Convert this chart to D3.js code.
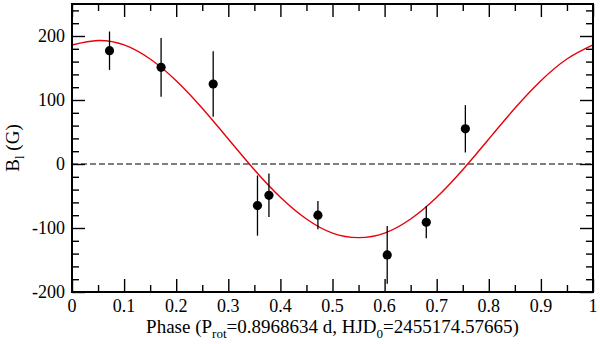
<!DOCTYPE html>
<html>
<head>
<meta charset="utf-8">
<script src="https://cdn.jsdelivr.net/npm/d3@7"></script>
<style>
  body { margin: 0; background: #fff; }
  #chart { position: relative; width: 600px; height: 344px; }
  #chart svg { position: absolute; left: 0; top: 0; }
  .lbl { position: absolute; left: 0; top: 0; white-space: nowrap; color: #000; }
</style>
</head>
<body>
<div id="chart"></div>
<script>
// Measured points (phase, longitudinal field, error)
const phases = [0.072, 0.171, 0.271, 0.356, 0.378, 0.472, 0.605, 0.680, 0.755];
const fieldValues = [177, 151, 125, -65, -49, -80, -142, -91, 55];
const fieldErrors = [30, 46, 51, 47, 34, 22, 45, 25, 37];

// Fitted curve every 0.05 in phase
const curvePhases = [0, 0.05, 0.1, 0.15, 0.2, 0.25, 0.3, 0.35, 0.4, 0.45, 0.5,
                     0.55, 0.6, 0.65, 0.7, 0.75, 0.8, 0.85, 0.9, 0.95, 1];
const curveValues = [186, 193, 186, 164, 130, 87, 39, -9, -52, -86, -108,
                     -115, -108, -86, -52, -9, 39, 87, 130, 164, 186];

const xTicks = [0, 0.1, 0.2, 0.3, 0.4, 0.5, 0.6, 0.7, 0.8, 0.9, 1];
const yTicks = [-200, -100, 0, 100, 200];

const W = 600, H = 344;
const margin = { left: 72, right: 7, top: 4, bottom: 52 };
const w = W - margin.left - margin.right;
const h = H - margin.top - margin.bottom;

const chart = d3.select('#chart');
const svg = chart.append('svg').attr('width', W).attr('height', H);
const g = svg.append('g').attr('transform', 'translate(' + margin.left + ',' + margin.top + ')');

const x = d3.scaleLinear().domain([0, 1]).range([0, w]);
const y = d3.scaleLinear().domain([-200, 250]).range([h, 0]);

// zero line
g.append('line')
  .attr('x1', 0).attr('x2', w)
  .attr('y1', y(0)).attr('y2', y(0))
  .attr('stroke', '#000').attr('stroke-width', 1.2)
  .attr('stroke-dasharray', '6,3');

// fitted curve
const line = d3.line().x((d, i) => x(curvePhases[i])).y(d => y(d)).curve(d3.curveNatural);
g.append('path')
  .datum(curveValues)
  .attr('d', line)
  .attr('fill', 'none')
  .attr('stroke', '#e8000b')
  .attr('stroke-width', 1.4);

// error bars
const pts = phases.map((p, i) => ({ p: p, v: fieldValues[i], e: fieldErrors[i] }));
g.selectAll('.err').data(pts).enter().append('line')
  .attr('class', 'err')
  .attr('x1', d => x(d.p)).attr('x2', d => x(d.p))
  .attr('y1', d => y(d.v - d.e)).attr('y2', d => y(d.v + d.e))
  .attr('stroke', '#000').attr('stroke-width', 1.3);

g.selectAll('.pt').data(pts).enter().append('circle')
  .attr('class', 'pt')
  .attr('cx', d => x(d.p)).attr('cy', d => y(d.v))
  .attr('r', 4.6).attr('fill', '#000');

// axes: ticks pointing inward on all four sides
const tickStyle = sel => {
  sel.select('.domain').remove();
  sel.selectAll('line').attr('stroke', '#000').attr('stroke-width', 1.4);
  sel.selectAll('text').remove();
};
const xMinor = d3.range(0.05, 1, 0.1);
const yMinor = d3.range(-180, 250, 20).filter(v => v % 100 !== 0);

g.append('g').attr('transform', 'translate(0,' + h + ')')
  .call(d3.axisTop(x).tickValues(xMinor).tickSize(7)).call(tickStyle);
g.append('g').attr('transform', 'translate(0,' + h + ')')
  .call(d3.axisTop(x).tickValues(xTicks).tickSize(13)).call(tickStyle);
g.append('g')
  .call(d3.axisBottom(x).tickValues(xMinor).tickSize(7)).call(tickStyle);
g.append('g')
  .call(d3.axisBottom(x).tickValues(xTicks).tickSize(13)).call(tickStyle);
g.append('g')
  .call(d3.axisRight(y).tickValues(yMinor).tickSize(7)).call(tickStyle);
g.append('g')
  .call(d3.axisRight(y).tickValues(yTicks).tickSize(13)).call(tickStyle);
g.append('g').attr('transform', 'translate(' + w + ',0)')
  .call(d3.axisLeft(y).tickValues(yMinor).tickSize(7)).call(tickStyle);
g.append('g').attr('transform', 'translate(' + w + ',0)')
  .call(d3.axisLeft(y).tickValues(yTicks).tickSize(13)).call(tickStyle);

// frame
g.append('rect')
  .attr('width', w).attr('height', h)
  .attr('fill', 'none').attr('stroke', '#000').attr('stroke-width', 2);

// html labels, serif face set inline on each one
const label = (size) => chart.append('div')
  .attr('class', 'lbl')
  .style('font-family', "'Liberation Serif'")
  .style('font-size', size + 'px')
  .style('line-height', size + 'px');
const base = size => Math.round(size * 0.84); // baseline offset inside the label box
const subHtml = t => '<span style="font-size:13px;vertical-align:-5px">' + t + '</span>';

const tickSize = 18, titleSize = 19;

xTicks.forEach(d => {
  label(tickSize)
    .style('transform', 'translate(' + (margin.left + x(d)) + 'px,' + (312 - base(tickSize)) + 'px) translateX(-50%)')
    .text(d3.format('~g')(d));
});

yTicks.forEach(d => {
  label(tickSize)
    .style('transform', 'translate(' + (margin.left - 7) + 'px,' + (margin.top + y(d) + 6 - base(tickSize)) + 'px) translateX(-100%)')
    .text(d);
});

// axis titles
label(titleSize)
  .style('transform', 'translate(' + (margin.left + w / 2) + 'px,' + (333 - base(titleSize)) + 'px) translateX(-50%)')
  .html('Phase (P' + subHtml('rot') + '=0.8968634 d, HJD' + subHtml('0') + '=2455174.57665)');

label(titleSize)
  .style('transform-origin', '0 0')
  .style('transform', 'translate(19px,' + (margin.top + h / 2) + 'px) rotate(-90deg) translate(-50%,-' + base(titleSize) + 'px)')
  .html('B' + subHtml('l') + ' (G)');
</script>
</body>
</html>
